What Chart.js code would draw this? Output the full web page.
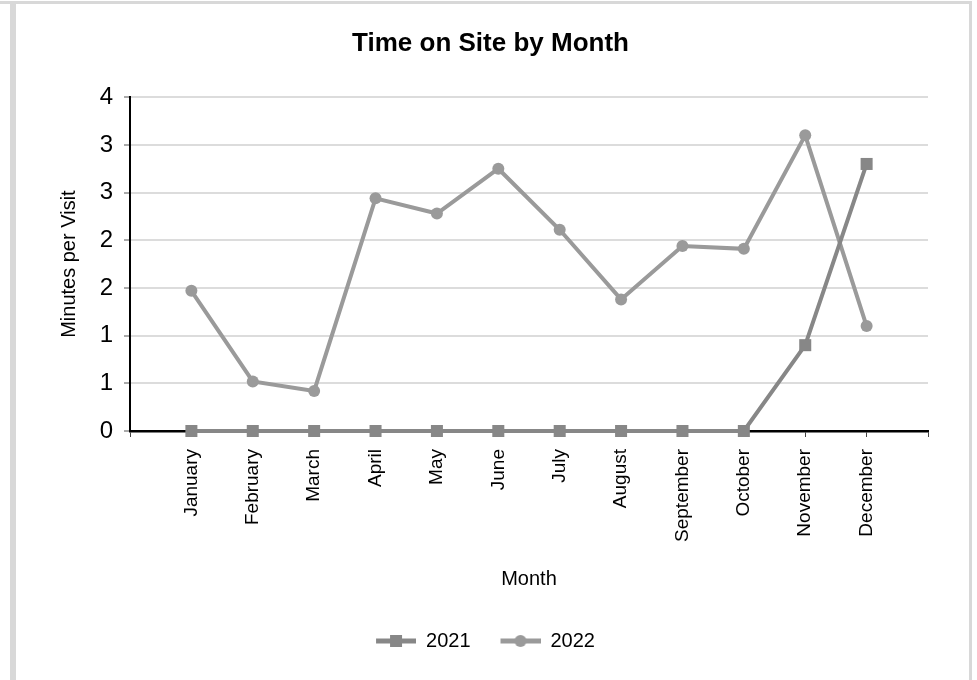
<!DOCTYPE html>
<html>
<head>
<meta charset="utf-8">
<title>Time on Site by Month</title>
<script src="https://cdn.jsdelivr.net/npm/chart.js@4.4.1/dist/chart.umd.min.js"></script>
<style>
  html, body { margin: 0; padding: 0; background: #fff; width: 977px; height: 680px; overflow: hidden; }
  .frame-top { position: absolute; left: 0; top: 1px; width: 972px; height: 3px; background: #d8d8d8; }
  .frame-left { position: absolute; left: 10px; top: 1px; width: 6px; height: 679px; background: #d8d8d8; }
  .frame-right { position: absolute; left: 969px; top: 1px; width: 3px; height: 679px; background: #d8d8d8; }
  #wrap { position: absolute; left: 16px; top: 4px; width: 953px; height: 676px; }
</style>
</head>
<body>
<div class="frame-top"></div>
<div class="frame-left"></div>
<div class="frame-right"></div>
<div id="wrap"><canvas id="chart" width="953" height="676"></canvas></div>
<script>
// Monthly averages, minutes per visit
const months = ['January', 'February', 'March', 'April', 'May', 'June',
                'July', 'August', 'September', 'October', 'November', 'December'];
const minutes2021 = [0, 0, 0, 0, 0, 0, 0, 0, 0, 0, 0.90, 2.80];
const minutes2022 = [1.47, 0.52, 0.42, 2.44, 2.28, 2.75, 2.11, 1.38, 1.94, 1.91, 3.10, 1.10];
const seriesNames = ['2021', '2022'];

const color2021 = '#878787';
const color2022 = '#9a9a9a';
const FONT = "'Liberation Sans', Arial, Helvetica, sans-serif";

// Month n sits at x = n on a 0..13 linear axis, leaving a blank slot at each end
const toPoints = values => values.map((v, i) => ({ x: i + 1, y: v }));

// Legend swatch: a short line with the series marker in the middle
function legendSwatch(color, shape) {
  const c = document.createElement('canvas');
  c.width = 60; c.height = 16;
  const g = c.getContext('2d');
  g.strokeStyle = color; g.fillStyle = color; g.lineWidth = 5;
  g.beginPath(); g.moveTo(20, 8); g.lineTo(60, 8); g.stroke();
  if (shape === 'rect') {
    g.fillRect(34, 2, 12, 12);
  } else {
    g.beginPath(); g.arc(40, 8, 6, 0, Math.PI * 2); g.fill();
  }
  return c;
}
const swatches = [legendSwatch(color2021, 'rect'), legendSwatch(color2022, 'circle')];

const legendShift = {
  id: 'legendShift',
  afterLayout(chart) {
    if (chart.legend) { chart.legend.left -= 15; chart.legend.right -= 15; }
  }
};

new Chart(document.getElementById('chart'), {
  type: 'line',
  data: {
    datasets: [
      {
        label: seriesNames[0],
        data: toPoints(minutes2021),
        borderColor: color2021,
        backgroundColor: color2021,
        borderWidth: 4,
        pointStyle: 'rect',
        pointRadius: 8.5,
        pointHoverRadius: 8.5,
        pointBorderWidth: 0,
        clip: false
      },
      {
        label: seriesNames[1],
        data: toPoints(minutes2022),
        borderColor: color2022,
        backgroundColor: color2022,
        borderWidth: 4,
        pointStyle: 'circle',
        pointRadius: 6,
        pointHoverRadius: 6,
        pointBorderWidth: 0,
        clip: false
      }
    ]
  },
  options: {
    responsive: false,
    animation: false,
    devicePixelRatio: 1,
    layout: { padding: { left: 37, right: 41, top: 0, bottom: 19 } },
    plugins: {
      title: {
        display: true,
        text: 'Time on Site by Month',
        color: '#000',
        font: { family: FONT, size: 26, weight: 'bold' },
        padding: { top: 24, bottom: 38 }
      },
      legend: {
        position: 'bottom',
        labels: {
          color: '#000',
          font: { family: FONT, size: 20 },
          usePointStyle: true,
          pointStyleWidth: 60,
          padding: 10,
          generateLabels(chart) {
            return chart.data.datasets.map((ds, i) => ({
              text: ds.label,
              pointStyle: swatches[i],
              fillStyle: ds.backgroundColor,
              strokeStyle: ds.borderColor,
              lineWidth: 0,
              hidden: false,
              datasetIndex: i
            }));
          }
        }
      },
      tooltip: { enabled: false }
    },
    scales: {
      x: {
        type: 'linear',
        min: 0,
        max: 13,
        z: 1,
        afterFit(scale) { scale.height = 190; },
        ticks: {
          stepSize: 1,
          maxTicksLimit: 20,
          autoSkip: false,
          minRotation: 90,
          maxRotation: 90,
          padding: 12,
          color: '#000',
          font: { family: FONT, size: 19 },
          callback: value => months[value - 1] || ''
        },
        grid: {
          drawOnChartArea: false,
          drawTicks: true,
          tickLength: 6,
          color: '#444',
          lineWidth: 1
        },
        border: { display: true, color: '#000', width: 2.5 },
        title: {
          display: true,
          text: 'Month',
          color: '#000',
          font: { family: FONT, size: 20 },
          padding: { top: 4, bottom: 30 }
        }
      },
      y: {
        min: 0,
        max: 3.5,
        afterFit(scale) { scale.width = 77; },
        ticks: {
          stepSize: 0.5,
          padding: 11,
          color: '#000',
          font: { family: FONT, size: 24 },
          callback: value => Math.round(value)
        },
        grid: {
          color: '#dcdcdc',
          lineWidth: 2,
          tickLength: 6,
          tickColor: '#555',
          tickWidth: 1
        },
        border: { display: true, color: '#000', width: 2 },
        title: {
          display: true,
          text: 'Minutes per Visit',
          color: '#000',
          font: { family: FONT, size: 20 },
          padding: { top: 4, bottom: 4 }
        }
      }
    }
  },
  plugins: [legendShift]
});
</script>
</body>
</html>
